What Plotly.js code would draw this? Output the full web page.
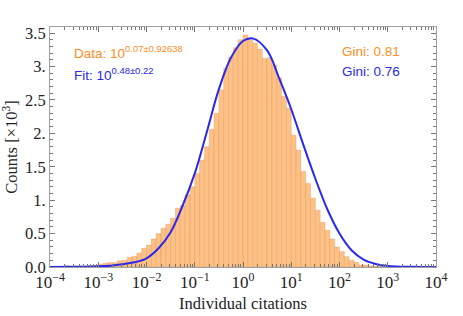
<!DOCTYPE html>
<html><head><meta charset="utf-8">
<script src="https://cdn.plot.ly/plotly-3.0.1.min.js"></script>
<style>html,body{margin:0;padding:0;background:#fff}#chart{width:463px;height:316px}</style>
</head><body><div id="chart"></div>
<script>
// histogram bins: left edges in log10(citations), width 0.1 decade
const binStart = [-4.0,-3.9,-3.8,-3.7,-3.6,-3.5,-3.4,-3.3,-3.2,-3.1,-3.0,-2.9,-2.8,-2.7,-2.6,-2.5,-2.4,-2.3,-2.2,-2.1,
  -2.0,-1.9,-1.8,-1.7,-1.6,-1.5,-1.4,-1.3,-1.2,-1.1,-1.0,-0.9,-0.8,-0.7,-0.6,-0.5,-0.4,-0.3,-0.2,-0.1,
  0.0,0.1,0.2,0.3,0.4,0.5,0.6,0.7,0.8,0.9,1.0,1.1,1.2,1.3,1.4,1.5,1.6,1.7,1.8,1.9,
  2.0,2.1,2.2,2.3,2.4,2.5,2.6,2.7,2.8];
const counts = [0,0,0.003,0.02,0.008,0.008,0.01,0.01,0.02,0.025,0.04,0.055,0.065,0.065,0.095,0.10,0.145,0.16,0.21,0.28,
  0.33,0.42,0.50,0.58,0.64,0.73,0.88,0.92,1.08,1.20,1.40,1.60,1.80,2.06,2.30,2.65,2.97,3.14,3.28,3.40,
  3.47,3.42,3.35,3.26,3.12,3.13,3.02,2.83,2.55,2.38,1.97,1.75,1.43,1.25,1.03,0.85,0.67,0.55,0.42,0.30,
  0.23,0.155,0.10,0.07,0.03,0.03,0.02,0.01,0.005];
// fitted curve (log10 x, counts)
const fitX = [-4,-3.5,-3,-2.75,-2.5,-2.25,-2,-1.75,-1.5,-1.25,-1,-0.75,-0.5,-0.25,0,0.2,0.5,0.75,1.0,1.25,1.5,1.75,2.0,2.25,2.5,2.75,3,3.5,4];
const fitY = [0,0.002,0.01,0.02,0.04,0.07,0.13,0.28,0.52,0.92,1.4,2.02,2.66,3.13,3.38,3.42,3.24,2.82,2.36,1.83,1.32,0.86,0.5,0.25,0.11,0.045,0.015,0.002,0];
const xTickVals = [-4,-3,-2,-1,0,1,2,3,4];
const xTickText = ['10<sup>−4</sup>','10<sup>−3</sup>','10<sup>−2</sup>','10<sup>−1</sup>','10<sup>0</sup>','10<sup>1</sup>','10<sup>2</sup>','10<sup>3</sup>','10<sup>4</sup>'];
const yTickVals = [0,0.5,1,1.5,2,2.5,3,3.5];
const yTickText = ['0.0','0.5','1.','1.5','2.','2.5','3.','3.5'];

const xMinor = [];
for (let k=-4;k<4;k++) for (let m=2;m<10;m++) xMinor.push(k+Math.log10(m));
const yMinor = [];
for (let i=0;i<=35;i++) if (i%5!==0) yMinor.push(i/10);

const ORANGE = 'rgb(255,140,30)';
const BLUE = 'rgb(40,40,240)';
const serif = 'Liberation Serif, Times New Roman, serif';
const sans = 'Liberation Sans, Arial, sans-serif';

const traces = [
  {type:'bar', x: binStart.map(v=>v+0.05), y: counts, width: 0.1,
   marker:{color:'rgb(255,192,132)', line:{color:'rgba(200,140,90,0.5)', width:0.6}},
   hoverinfo:'skip'},
  {type:'scatter', mode:'lines', x: fitX, y: fitY, line:{color:BLUE, width:2, shape:'spline', smoothing:1}, hoverinfo:'skip'}
];

const axisCommon = {showgrid:false, zeroline:false, showline:true, linecolor:'#a0a0a0', linewidth:1,
  mirror:'ticks', ticks:'inside', ticklen:5, tickcolor:'#777', tickwidth:1,
  tickfont:{family:serif, size:17, color:'#222'}};

const layout = {
  width:463, height:316, margin:{l:50, r:27, t:27, b:49},
  paper_bgcolor:'#fff', plot_bgcolor:'#fff', showlegend:false, bargap:0,
  xaxis: Object.assign({}, axisCommon, {range:[-4,4], tickmode:'array', tickvals:xTickVals, ticktext:xTickText,
    minor:{tickvals:xMinor, ticks:'inside', ticklen:3, tickcolor:'#777'},
    title:{text:'Individual citations', font:{family:serif, size:16.5, color:'#222'}, standoff:6}}),
  yaxis: Object.assign({}, axisCommon, {range:[0,3.59], tickmode:'array', tickvals:yTickVals, ticktext:yTickText,
    tickfont:{family:serif, size:16.5, color:'#222'},
    minor:{tickvals:yMinor, ticks:'inside', ticklen:3, tickcolor:'#777'},
    title:{text:'Counts [×10<sup>3</sup>]', font:{family:serif, size:16.5, color:'#222'}, standoff:4}}),
  annotations:[
    {xref:'paper', yref:'paper', x:0.057, y:0.895, xanchor:'left', yanchor:'middle', showarrow:false,
     text:'Data: 10<sup>0.07±0.92638</sup>', font:{family:sans, size:13.5, color:ORANGE}},
    {xref:'paper', yref:'paper', x:0.057, y:0.805, xanchor:'left', yanchor:'middle', showarrow:false,
     text:'Fit: 10<sup>0.48±0.22</sup>', font:{family:sans, size:13.5, color:BLUE}},
    {xref:'paper', yref:'paper', x:0.75, y:0.897, xanchor:'left', yanchor:'middle', showarrow:false,
     text:'Gini: 0.81', font:{family:sans, size:13.5, color:ORANGE}},
    {xref:'paper', yref:'paper', x:0.75, y:0.813, xanchor:'left', yanchor:'middle', showarrow:false,
     text:'Gini: 0.76', font:{family:sans, size:13.5, color:BLUE}}
  ]
};
Plotly.newPlot('chart', traces, layout, {staticPlot:true, displayModeBar:false});
</script></body></html>
